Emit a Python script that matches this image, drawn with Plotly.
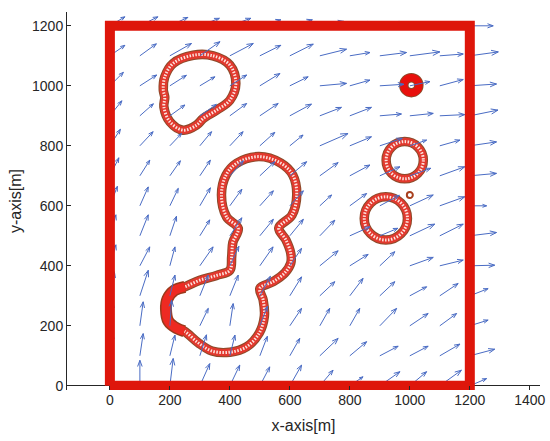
import numpy as np
import plotly.graph_objects as go
import plotly.figure_factory as ff

# ---------------- data ----------------
grid_x = [0, 100, 200, 300, 400, 500, 600, 700, 800, 900, 1000, 1100, 1200]
grid_y = [0, 100, 200, 300, 400, 500, 600, 700, 800, 900, 1000, 1100, 1200]

# wind vectors (rows: y = 0 .. 1200, columns: x = 0 .. 1200)
quiver_u = [
    [5, 0, 11, 33, 33, 33, 39, 44, 44, 67, 56, 72, 56],
    [10, 11, 17, 22, 17, 25, 33, 61, 56, 61, 61, 67, 83],
    [10, 11, 6, 28, 11, 25, 39, 33, 33, 56, 61, 56, 61],
    [15, 28, 17, 28, 28, 35, 39, 50, 44, 50, 56, 61, 61],
    [20, 33, 17, 44, 30, 44, 39, 61, 61, 50, 78, 78, 83],
    [20, 28, 22, 33, 40, 45, 45, 50, 67, 60, 83, 78, 89],
    [25, 28, 28, 35, 40, 45, 45, 39, 56, 65, 78, 83, 56],
    [30, 33, 35, 35, 45, 50, 56, 61, 67, 67, 70, 83, 89],
    [35, 44, 39, 39, 44, 50, 44, 94, 72, 75, 56, 67, 89],
    [40, 45, 50, 55, 56, 61, 72, 72, 72, 72, 78, 83, 94],
    [45, 56, 55, 50, 56, 67, 61, 89, 67, 80, 67, 78, 89],
    [50, 55, 72, 67, 78, 70, 78, 89, 67, 89, 100, 78, 95],
    [50, 60, 60, 65, 70, 70, 75, 80, 80, 85, 85, 85, 78],
]
quiver_v = [
    [80, 85, 91, 74, 69, 63, 69, 52, 30, 47, 47, 52, 24],
    [75, 74, 69, 70, 69, 65, 58, 58, 47, 32, 32, 39, 22],
    [80, 80, 85, 58, 74, 65, 58, 58, 58, 58, 41, 41, 19],
    [80, 85, 69, 69, 69, 65, 63, 47, 58, 47, 30, 41, 24],
    [70, 63, 63, 63, 65, 63, 58, 50, 38, 47, 28, 19, 2],
    [70, 70, 65, 53, 60, 55, 55, 52, 30, 25, 39, 39, 11],
    [65, 63, 58, 60, 55, 50, 50, 36, 41, 35, 36, 30, 0],
    [60, 52, 50, 52, 50, 47, 47, 44, 36, 30, 25, 30, 8],
    [55, 47, 41, 47, 47, 45, 36, 41, 30, 25, 19, 19, 13],
    [50, 40, 36, 38, 41, 41, 39, 28, 28, 6, 8, 4, 19],
    [45, 36, 35, 30, 36, 41, 30, 8, 19, 5, 14, 21, 6],
    [35, 40, 41, 47, 41, 35, 39, 22, 11, 11, 13, 6, 13],
    [30, 30, 28, 25, 25, 20, 20, 15, 10, 10, 8, 5, 0],
]

# boundary of the area
box_x = [0, 1200, 1200, 0, 0]
box_y = [0, 0, 1200, 1200, 0]

# trajectory loops (centre line of the marker chains)
kidney_x = [278, 344, 400, 420, 400, 356, 311, 289, 244, 200, 180, 183, 178, 183, 211, 278]
kidney_y = [1102, 1100, 1069, 1008, 952, 919, 891, 869, 852, 880, 930, 962, 986, 1030, 1075, 1102]

blob_x = [428, 389, 372, 387, 423, 497, 570, 610, 623, 607, 563, 587, 603, 603, 583, 544,
          500, 511, 515, 498, 456, 400, 340, 295, 248, 222, 195, 187, 192, 215, 250, 300,
          356, 400, 406, 410, 428]
blob_y = [525, 563, 636, 702, 742, 764, 742, 702, 636, 569, 526, 486, 442, 409, 376, 347,
          325, 286, 232, 176, 130, 112, 116, 143, 182, 192, 215, 255, 290, 318, 330, 352,
          368, 385, 430, 478, 525]

c_arc_x = [250, 215, 192, 187, 195, 222, 248]
c_arc_y = [330, 318, 290, 255, 215, 192, 182]

# circular trajectories on the right: centre and radius
circle_cx = [1005, 983, 920]
circle_cy = [1002, 752, 558]
circle_r = [25, 62, 72]
small_cx = [1000]
small_cy = [636]
small_r = [10]

tick_x = [0, 200, 400, 600, 800, 1000, 1200, 1400]
tick_y = [0, 200, 400, 600, 800, 1000, 1200]

# ---------------- figure ----------------
fig = go.Figure()

RING_EDGE = "#8c4a2a"
RING_RED = "#e2392e"
RING_HOLE = "rgba(255,236,232,0.95)"


def add_ring(xs, ys):
    fig.add_trace(go.Scatter(x=xs, y=ys, mode="lines", line=dict(color=RING_EDGE, width=9.5, shape="spline"),
                             hoverinfo="skip", showlegend=False))
    fig.add_trace(go.Scatter(x=xs, y=ys, mode="lines", line=dict(color=RING_RED, width=7.5, shape="spline"),
                             hoverinfo="skip", showlegend=False))
    fig.add_trace(go.Scatter(x=xs, y=ys, mode="lines",
                             line=dict(color=RING_HOLE, width=3, shape="spline", dash="1.5px,1.5px"),
                             hoverinfo="skip", showlegend=False))


add_ring(kidney_x, kidney_y)
add_ring(blob_x, blob_y)
fig.add_trace(go.Scatter(x=c_arc_x, y=c_arc_y, mode="lines",
                         line=dict(color="#9a3a1c", width=12, shape="spline"),
                         hoverinfo="skip", showlegend=False))
fig.add_trace(go.Scatter(x=c_arc_x, y=c_arc_y, mode="lines",
                         line=dict(color="#ee2a22", width=9, shape="spline"),
                         hoverinfo="skip", showlegend=False))

# circles as shapes (drawn below the arrows)
for i, (cx, cy, r) in enumerate(zip(circle_cx, circle_cy, circle_r)):
    if i == 0:
        layers = [(RING_EDGE, 9.5, "solid"), ("#e8100c", 7.5, "solid")]
    else:
        layers = [(RING_EDGE, 9.5, "solid"), (RING_RED, 7.5, "solid"), (RING_HOLE, 3, "1.5px,1.5px")]
    for col, w, d in layers:
        fig.add_shape(type="circle", xref="x", yref="y", x0=cx - r, x1=cx + r, y0=cy - r, y1=cy + r,
                      line=dict(color=col, width=w, dash=d), layer="below")
for cx, cy, r in zip(small_cx, small_cy, small_r):
    fig.add_shape(type="circle", xref="x", yref="y", x0=cx - r, x1=cx + r, y0=cy - r, y1=cy + r,
                  line=dict(color="#a8401e", width=2), layer="below")

# quiver
X, Y = np.meshgrid(grid_x, grid_y)
qfig = ff.create_quiver(X.flatten(), Y.flatten(), np.array(quiver_u, float).flatten(),
                        np.array(quiver_v, float).flatten(), scale=1, arrow_scale=0.26, angle=np.pi / 9)
qt = qfig.data[0]
fig.add_trace(go.Scatter(x=qt.x, y=qt.y, mode="lines", line=dict(color="#4a6cc4", width=1),
                         hoverinfo="skip", showlegend=False))

# boundary
fig.add_trace(go.Scatter(x=box_x, y=box_y, mode="lines", line=dict(color="#de160b", width=10),
                         hoverinfo="skip", showlegend=False))

axis_font = dict(family="Liberation Sans, Arial, sans-serif", size=14, color="#262626")
title_font = dict(family="Liberation Sans, Arial, sans-serif", size=16, color="#262626")
fig.update_layout(
    width=550, height=441,
    margin=dict(l=67, r=10, t=12, b=51, autoexpand=False),
    paper_bgcolor="white", plot_bgcolor="white",
    showlegend=False,
    font=axis_font,
    xaxis=dict(range=[-143, 1434], tickvals=tick_x, ticks="inside", ticklen=4, tickcolor="#262626",
               showgrid=False, zeroline=False, showline=False, tickfont=axis_font, automargin=False,
               title=dict(text="x-axis[m]", font=title_font, standoff=12)),
    yaxis=dict(range=[-14, 1246], tickvals=tick_y, ticks="inside", ticklen=4, tickcolor="#262626",
               showgrid=False, zeroline=True, zerolinecolor="#262626", zerolinewidth=1,
               showline=True, linecolor="#262626", linewidth=1, tickfont=axis_font, automargin=False,
               title=dict(text="y-axis[m]", font=title_font, standoff=6)),
)

fig.write_html("out.html", config={"displayModeBar": False},
               post_script="document.body.style.margin='0px';")
